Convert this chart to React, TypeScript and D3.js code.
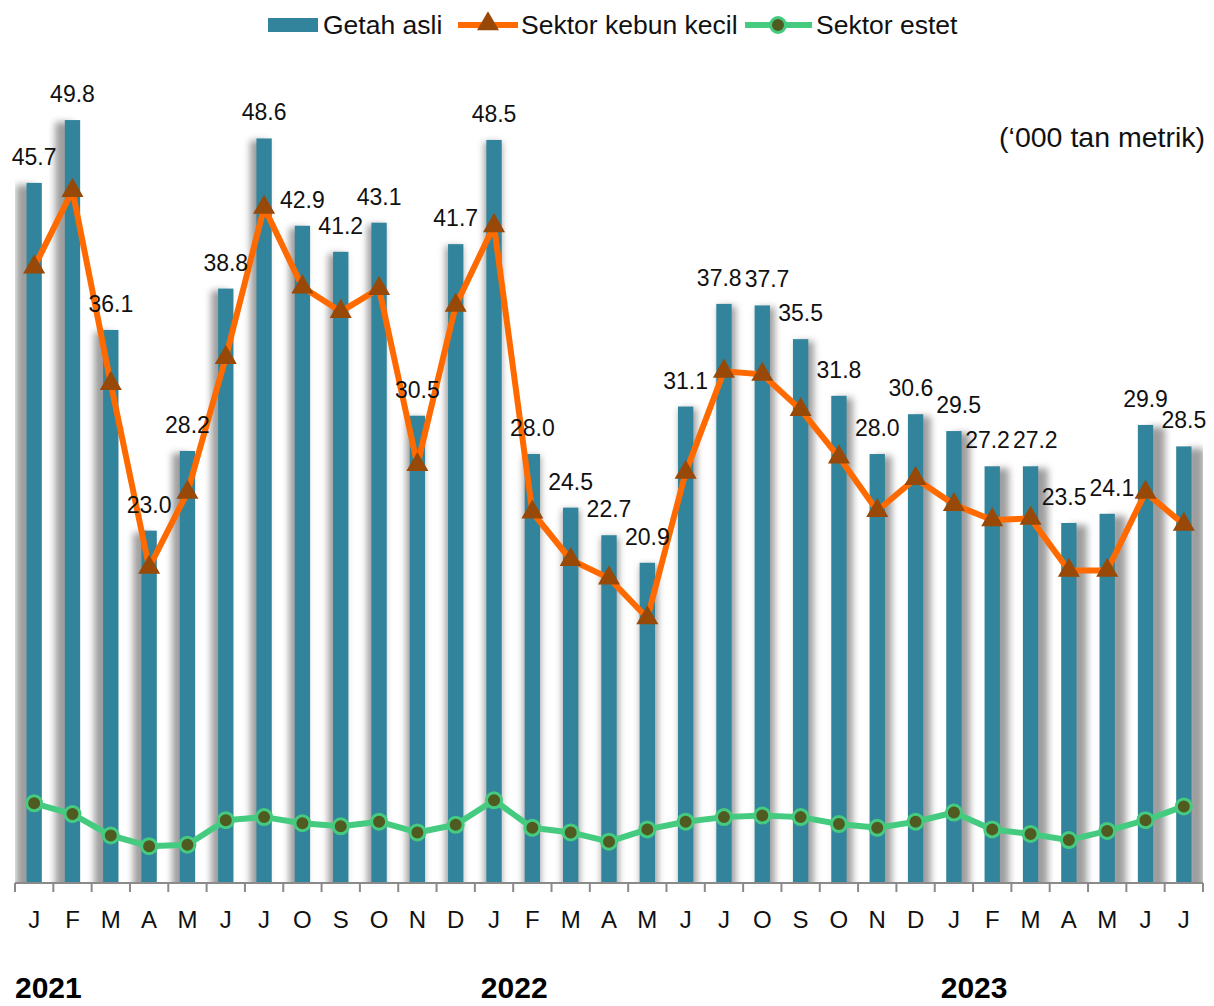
import React from "react";
import * as d3 from "d3";

const months = ["J","F","M","A","M","J","J","O","S","O","N","D","J","F","M","A","M","J","J","O","S","O","N","D","J","F","M","A","M","J","J"];
const getahAsli = [45.7,49.8,36.1,23.0,28.2,38.8,48.6,42.9,41.2,43.1,30.5,41.7,48.5,28.0,24.5,22.7,20.9,31.1,37.8,37.7,35.5,31.8,28.0,30.6,29.5,27.2,27.2,23.5,24.1,29.9,28.5];
const kebunKecil = [40.2,45.2,32.6,20.6,25.5,34.3,44.1,38.9,37.3,38.8,27.3,37.7,42.9,24.2,21.1,19.9,17.3,26.8,33.4,33.2,30.9,27.8,24.3,26.4,24.7,23.7,23.8,20.4,20.4,25.5,23.4];
const estet = [5.2,4.5,3.1,2.4,2.5,4.1,4.3,3.9,3.7,4.0,3.3,3.8,5.4,3.6,3.3,2.7,3.5,4.0,4.3,4.4,4.3,3.85,3.6,4.0,4.6,3.5,3.2,2.8,3.4,4.1,5.0];
const years = ["2021","2022","2023"];
const yearStartIndex = [0,12,24];
const seriesNames = ["Getah asli","Sektor kebun kecil","Sektor estet"];
const unitLabel = "(‘000 tan metrik)";

const W = 1214, H = 1006;
const FONT = "'Liberation Sans', Arial, Helvetica, sans-serif";
const TEAL = "#31849B";
const ORANGE = "#FF6A00";
const BROWN = "#984807";
const GREEN = "#45CB7F";
const OLIVE = "#4F5B20";
const LABEL_FS = 23;

function labelWidth(s: string, fs: number) {
  let w = 0;
  for (const ch of s) w += ch === "." ? 0.278 : 0.556;
  return w * fs;
}

export default function App() {
  const idx = d3.range(months.length);
  const x = d3.scaleBand<number>().domain(idx).range([15, 1203]).padding(0);
  const y = d3.scaleLinear().domain([0, 50]).range([883, 883 - 766]);
  const bw = x.bandwidth() * 0.4;
  const cx = (i: number) => (x(i) as number) + x.bandwidth() / 2;
  const lineK = d3.line<number>().x((_, i) => cx(i)).y((d) => y(d));
  const tri = d3.symbol().type(d3.symbolTriangle).size(210)();

  // data-label layout with simple collision avoidance between neighbours
  const labels = getahAsli.map((v, i) => {
    const t = v.toFixed(1);
    return { t, x: cx(i), y: y(v) - 18, w: labelWidth(t, LABEL_FS) };
  });
  for (let pass = 0; pass < 3; pass++) {
    for (let i = 1; i < labels.length; i++) {
      const a = labels[i - 1], b = labels[i];
      if (Math.abs(a.y - b.y) > LABEL_FS * 0.8) continue;
      const overlap = (a.x + a.w / 2 + 3) - (b.x - b.w / 2);
      if (overlap > 0) {
        a.x -= overlap / 2;
        b.x += overlap / 2;
      }
    }
  }

  return (
    <svg width={W} height={H} style={{ position: "absolute", left: 0, top: 0, background: "#fff" }} fontFamily={FONT}>
      <defs>
        <filter id="blur" x="-100%" y="-10%" width="300%" height="120%">
          <feGaussianBlur stdDeviation="3.5" />
        </filter>
        <clipPath id="plotclip">
          <rect x={15} y={0} width={1188} height={883} />
        </clipPath>
      </defs>

      {/* bar shadows */}
      <g clipPath="url(#plotclip)">
        {getahAsli.map((v, i) => {
          const c = cx(i);
          const dx = ((c - W / 2) / (W / 2)) * 11;
          return (
            <rect key={"s" + i} x={c - bw / 2 + dx} y={y(v) + 2} width={bw + 2} height={883 - y(v) + 10}
              fill="#8c8c8c" opacity={0.85} filter="url(#blur)" />
          );
        })}
      </g>

      {/* bars */}
      {getahAsli.map((v, i) => (
        <rect key={"b" + i} x={cx(i) - bw / 2} y={y(v)} width={bw} height={883 - y(v)} fill={TEAL} />
      ))}

      {/* axis */}
      <line x1={15} x2={1203} y1={883} y2={883} stroke="#8a8a8a" strokeWidth={2} />
      {d3.range(months.length + 1).map((i) => {
        const xx = 15 + i * x.bandwidth();
        return <line key={"t" + i} x1={xx} x2={xx} y1={883} y2={892} stroke="#8a8a8a" strokeWidth={2} />;
      })}
      {months.map((m, i) => (
        <text key={"m" + i} x={cx(i)} y={928} textAnchor="middle" fontSize={24} fill="#111">{m}</text>
      ))}
      {years.map((yr, k) => (
        <text key={yr} x={(x(yearStartIndex[k]) as number) + (k === 0 ? 0 : 6)} y={998} fontSize={30} fontWeight="bold" fill="#000">{yr}</text>
      ))}

      {/* green line */}
      <path d={lineK(estet) || ""} fill="none" stroke={GREEN} strokeWidth={6} strokeLinejoin="round" />
      {estet.map((v, i) => (
        <circle key={"e" + i} cx={cx(i)} cy={y(v)} r={7.5} fill={OLIVE} stroke={GREEN} strokeWidth={3} />
      ))}

      {/* orange line */}
      <path d={lineK(kebunKecil) || ""} fill="none" stroke={ORANGE} strokeWidth={6} strokeLinejoin="round" />
      {kebunKecil.map((v, i) => (
        <path key={"k" + i} d={tri || ""} transform={`translate(${cx(i)},${y(v)})`} fill={BROWN} />
      ))}

      {/* data labels */}
      {labels.map((l, i) => (
        <text key={"l" + i} x={l.x} y={l.y} textAnchor="middle" fontSize={LABEL_FS} fill="#111">{l.t}</text>
      ))}

      {/* unit label */}
      <text x={1205} y={147} textAnchor="end" fontSize={28.5} fill="#111">{unitLabel}</text>

      {/* legend */}
      <g>
        <rect x={268} y={18} width={50} height={14} fill={TEAL} />
        <text x={323} y={34} fontSize={26.5} fill="#111">{seriesNames[0]}</text>
        <line x1={458} x2={518} y1={25} y2={25} stroke={ORANGE} strokeWidth={6} />
        <path d={tri || ""} transform="translate(488,24)" fill={BROWN} />
        <text x={521} y={34} fontSize={26.5} fill="#111">{seriesNames[1]}</text>
        <line x1={745} x2={812} y1={25} y2={25} stroke={GREEN} strokeWidth={6} />
        <circle cx={778} cy={25} r={7.5} fill={OLIVE} stroke={GREEN} strokeWidth={3} />
        <text x={816} y={34} fontSize={26.5} fill="#111">{seriesNames[2]}</text>
      </g>
    </svg>
  );
}
